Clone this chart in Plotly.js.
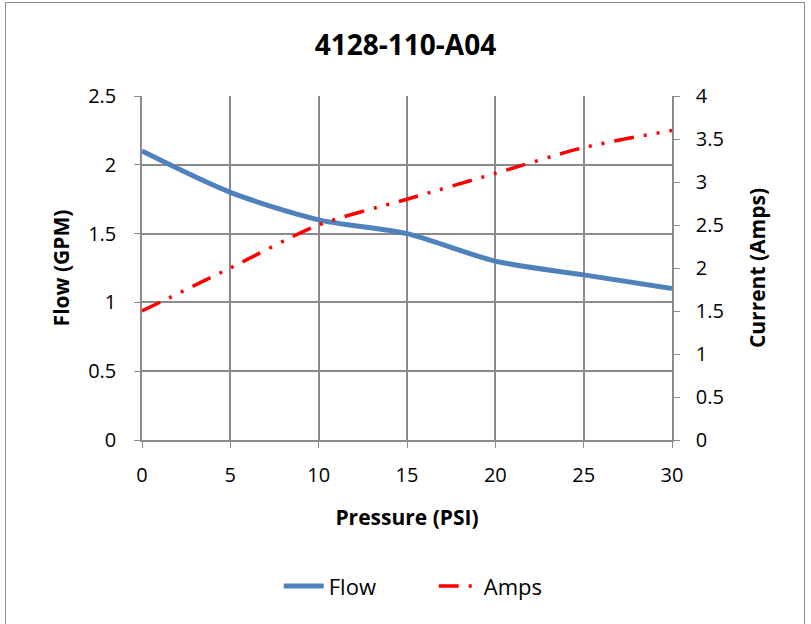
<!DOCTYPE html>
<html><head><meta charset="utf-8">
<script src="https://cdn.plot.ly/plotly-3.0.1.min.js"></script>
<style>html,body{margin:0;padding:0;background:#fff}
#frame{position:absolute;left:5px;top:2px;width:800px;height:630px;border:1.5px solid #8c8c8c;box-sizing:border-box}
#chart{position:absolute;left:0;top:0;width:811px;height:624px}</style>
</head><body><div id="frame"></div><div id="chart"></div>
<script>
const pressure = [0, 5, 10, 15, 20, 25, 30];
const flow = [2.1, 1.8, 1.6, 1.5, 1.3, 1.2, 1.1];
const amps = [1.5, 2.0, 2.5, 2.8, 3.1, 3.4, 3.6];
const F = "'Open Sans', 'Liberation Sans', sans-serif";
const traces = [
  {x: pressure, y: flow, name: 'Flow', type: 'scatter', mode: 'lines',
   line: {color: '#4F81BD', width: 5, shape: 'spline', smoothing: 0.8}},
  {x: pressure, y: amps, name: 'Amps', type: 'scatter', mode: 'lines', yaxis: 'y2',
   line: {color: '#FF0000', width: 3.5, shape: 'spline', smoothing: 0.8, dash: '20px,10px,3px,10px,3px,10px'}}
];
const layout = {
  width: 811, height: 624, paper_bgcolor: 'rgba(0,0,0,0)', plot_bgcolor: '#fff',
  margin: {l: 142, r: 139, t: 96, b: 184},
  font: {family: F, size: 20, color: '#000'},
  title: {text: '<b>4128-110-A04</b>', font: {family: F, size: 28, color: '#000'}, x: 0.5, xanchor: 'center', y: 0.927, yanchor: 'middle'},
  showlegend: true,
  legend: {orientation: 'h', x: 0.258, xanchor: 'left', y: -0.425, yanchor: 'middle', entrywidth: 100, itemwidth: 40, font: {family: F, size: 22}},
  xaxis: {range: [0, 30], dtick: 5, showgrid: true, gridcolor: '#8a8a8a', gridwidth: 1.5,
    showline: true, linecolor: '#8a8a8a', linewidth: 1.5, ticks: 'outside', ticklen: 6, tickcolor: '#8a8a8a',
    zeroline: false, mirror: false, tickfont: {family: F, size: 20}, ticklabelstandoff: 10,
    title: {text: '<b>Pressure (PSI)</b>', font: {family: F, size: 21}, standoff: 24}},
  yaxis: {range: [0, 2.5], dtick: 0.5, showgrid: true, gridcolor: '#8a8a8a', gridwidth: 1.5,
    showline: true, linecolor: '#8a8a8a', linewidth: 1.5, ticks: 'outside', ticklen: 6, tickcolor: '#8a8a8a',
    zeroline: false, tickfont: {family: F, size: 20}, ticklabelstandoff: 14,
    title: {text: '<b>Flow (GPM)</b>', font: {family: F, size: 21}, standoff: 13}},
  yaxis2: {range: [0, 4], dtick: 0.5, overlaying: 'y', side: 'right', showgrid: false,
    showline: true, linecolor: '#8a8a8a', linewidth: 1.5, ticks: 'outside', ticklen: 6, tickcolor: '#8a8a8a',
    zeroline: false, tickfont: {family: F, size: 20}, ticklabelstandoff: 12,
    title: {text: '<b>Current (Amps)</b>', font: {family: F, size: 21}, standoff: 27}}
};
Plotly.newPlot('chart', traces, layout, {displayModeBar: false});
</script></body></html>
